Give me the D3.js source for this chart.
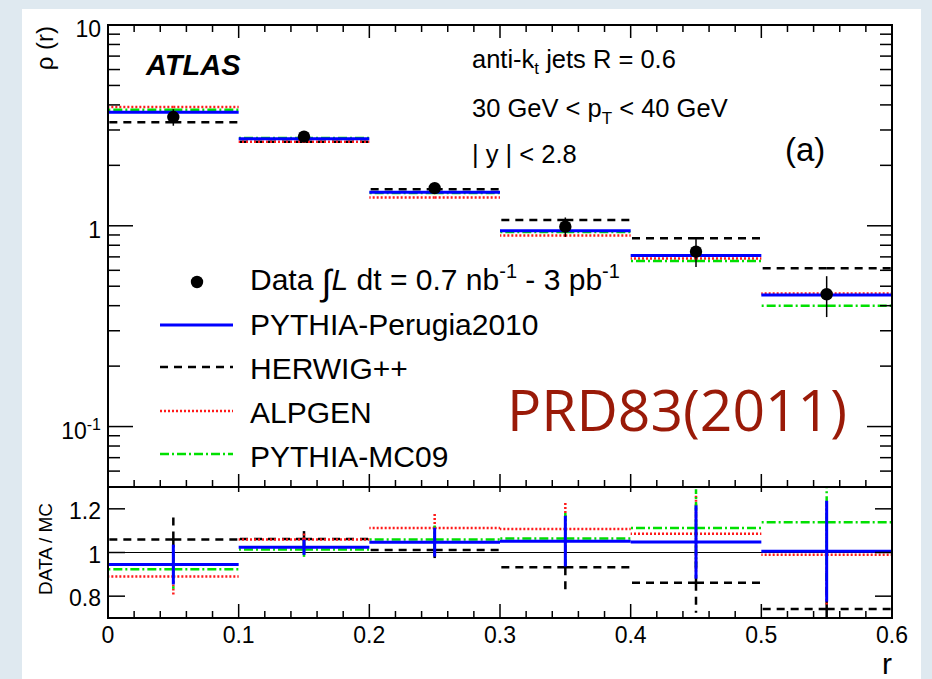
<!DOCTYPE html>
<html><head><meta charset="utf-8">
<script src="https://cdn.jsdelivr.net/npm/d3@7"></script>
<style>body{margin:0;background:#fff;} text{font-family:"Liberation Sans",Arial,Helvetica,sans-serif;fill:#000;}</style>
</head><body><svg id="c" width="932" height="679"></svg>
<script>
// ---------- data ----------
const rLow    = [0.0, 0.1, 0.2, 0.3, 0.4, 0.5];
const rHigh   = [0.1, 0.2, 0.3, 0.4, 0.5, 0.6];
const rCenter = [0.05, 0.15, 0.25, 0.35, 0.45, 0.55];

const dataRho = [3.48, 2.78, 1.54, 0.99, 0.743, 0.456];
const dataErr = [0.33, 0.095, 0.097, 0.11, 0.12, 0.105];

const rhoPerugia = [3.68, 2.715, 1.47, 0.944, 0.712, 0.452];
const rhoHerwig  = [3.28, 2.62, 1.52, 1.07, 0.866, 0.615];
const rhoAlpgen  = [3.91, 2.625, 1.385, 0.895, 0.687, 0.46];
const rhoMC09    = [3.78, 2.74, 1.455, 0.932, 0.668, 0.40];

const ratPerugia = [0.945, 1.024, 1.047, 1.052, 1.048, 1.006];
const ratHerwig  = [1.059, 1.062, 1.011, 0.933, 0.862, 0.741];
const ratAlpgen  = [0.89, 1.059, 1.112, 1.108, 1.086, 0.99];
const ratMC09    = [0.923, 1.014, 1.059, 1.064, 1.112, 1.138];

const errPerugia = [0.091, 0.035, 0.066, 0.116, 0.168, 0.231];
const errHerwig  = [0.102, 0.036, 0.064, 0.103, 0.138, 0.170];
const errAlpgen  = [0.085, 0.036, 0.070, 0.122, 0.174, 0.228];
const errMC09    = [0.089, 0.034, 0.067, 0.117, 0.178, 0.262];

const xTickLabels = ["0", "0.1", "0.2", "0.3", "0.4", "0.5", "0.6"];
const ratioTicks  = [0.8, 1, 1.2];
const legendNames = ["PYTHIA-Perugia2010", "HERWIG++", "ALPGEN", "PYTHIA-MC09"];

// ---------- setup ----------
const svg = d3.select('#c');
svg.append('rect').attr('width',932).attr('height',679).attr('fill','#dfe9f0');
svg.append('rect').attr('x',22).attr('y',9).attr('width',899).attr('height',670).attr('fill','#fff');

const X0=108, X1=892, YT0=25, YT1=487, YR1=618;
const x  = d3.scaleLinear().domain([0,0.6]).range([X0,X1]);
const yT = d3.scaleLog().domain([0.05,10]).range([YT1,YT0]);
const yR = d3.scaleLinear().domain([0.7,1.3]).range([YR1,YT1]);

const st = {
  perugia:{color:'#0000ff', dash:null, w:3},
  herwig:{color:'#000000', dash:'8,6', w:2.5},
  alpgen:{color:'#ff1a1a', dash:'2,2', w:2.5},
  mc09:{color:'#00e000', dash:'9,3,2,3', w:2.5}
};

const defs = svg.append('defs');
defs.append('clipPath').attr('id','clipT').append('rect').attr('x',X0).attr('y',YT0).attr('width',X1-X0).attr('height',YT1-YT0);
defs.append('clipPath').attr('id','clipR').append('rect').attr('x',X0).attr('y',YT1).attr('width',X1-X0).attr('height',YR1-YT1);

function seg(g,x1,y1,x2,y2,s,w){
  const l = g.append('line').attr('x1',x1).attr('y1',y1).attr('x2',x2).attr('y2',y2)
    .attr('stroke',s.color).attr('stroke-width',w||s.w).attr('fill','none');
  if(s.dash) l.attr('stroke-dasharray',s.dash);
  return l;
}

// ---------- top panel ----------
const gT = svg.append('g').attr('clip-path','url(#clipT)');
const topSeries = [[rhoHerwig,st.herwig],[rhoAlpgen,st.alpgen],[rhoMC09,st.mc09],[rhoPerugia,st.perugia]];
topSeries.forEach(([vals,s])=>{
  vals.forEach((v,i)=>{
    const xc=x(rCenter[i]), yy=yT(v);
    seg(gT,xc,yy,x(rLow[i]),yy,s);
    seg(gT,xc,yy,x(rHigh[i]),yy,s);
  });
});
dataRho.forEach((v,i)=>{
  const xc=x(rCenter[i]);
  gT.append('line').attr('x1',xc).attr('x2',xc).attr('y1',yT(v+dataErr[i])).attr('y2',yT(v-dataErr[i]))
    .attr('stroke','#000').attr('stroke-width',1.5);
  gT.append('circle').attr('cx',xc).attr('cy',yT(v)).attr('r',6.2).attr('fill','#000');
});

// ---------- ratio panel ----------
const gR = svg.append('g').attr('clip-path','url(#clipR)');
gR.append('line').attr('x1',X0).attr('x2',X1).attr('y1',yR(1)).attr('y2',yR(1)).attr('stroke','#000').attr('stroke-width',1);
const ratSeries = [[ratHerwig,errHerwig,st.herwig],[ratAlpgen,errAlpgen,st.alpgen],[ratMC09,errMC09,st.mc09],[ratPerugia,errPerugia,st.perugia]];
ratSeries.forEach(([vals,errs,s])=>{
  vals.forEach((v,i)=>{
    const xc=x(rCenter[i]), yy=yR(v);
    seg(gR,xc,yy,x(rLow[i]),yy,s);
    seg(gR,xc,yy,x(rHigh[i]),yy,s);
    seg(gR,xc,yy,xc,yR(v+errs[i]),s);
    seg(gR,xc,yy,xc,yR(v-errs[i]),s);
  });
});

// ---------- frames & ticks ----------
const ax = svg.append('g').attr('stroke','#000').attr('fill','none');
ax.append('rect').attr('x',X0).attr('y',YT0).attr('width',X1-X0).attr('height',YT1-YT0).attr('stroke-width',2);
ax.append('rect').attr('x',X0).attr('y',YT1).attr('width',X1-X0).attr('height',YR1-YT1).attr('stroke-width',2);

const xMinor = x.ticks(30);
const xMajor = x.ticks(6);
function tick(x1,y1,x2,y2){ ax.append('line').attr('x1',x1).attr('y1',y1).attr('x2',x2).attr('y2',y2).attr('stroke-width',1.5); }
xMinor.forEach(t=>{
  const major = xMajor.some(m=>Math.abs(m-t)<1e-9);
  const L = major?13:7;
  const xx = x(t);
  if(xx<=X0+1||xx>=X1-1) return;
  tick(xx,YT0,xx,YT0+L); tick(xx,YT1,xx,YT1-L);
  tick(xx,YR1,xx,YR1-(major?14:7));
  if(major) tick(xx,YT1,xx,YT1+5);
});
yT.ticks().forEach(t=>{
  const lg=Math.log10(t); const major=Math.abs(lg-Math.round(lg))<1e-9;
  const L = major?25:12; const yy=yT(t);
  if(yy<YT0+0.5||yy>YT1-0.5) { if(!(major && Math.abs(yy-YT0)<1)) return; }
  tick(X0,yy,X0+L,yy); tick(X1,yy,X1-L,yy);
});
ratioTicks.forEach(t=>{ const yy=yR(t); tick(X0,yy,X0+17,yy); tick(X1,yy,X1-17,yy); });

// ---------- tick labels ----------
const lab = svg.append('g').style('font-size','23px');
xMajor.forEach((t,i)=>{
  lab.append('text').attr('x',x(t)).attr('y',643).attr('text-anchor','middle').text(xTickLabels[i]);
});
[[10,'10',null],[1,'1',null],[0.1,'10','-1']].forEach(([v,base,sup])=>{
  const t = lab.append('text').attr('x',101).attr('y',yT(v)+12).attr('text-anchor','end');
  t.append('tspan').text(base);
  if(sup) t.append('tspan').attr('dy',-9).style('font-size','16px').text(sup);
});
ratioTicks.forEach(v=>{
  lab.append('text').attr('x',101).attr('y',yR(v)+10).attr('text-anchor','end').text(d3.format('~g')(v));
});

// ---------- axis titles ----------
svg.append('text').attr('transform','translate(53,26) rotate(-90)').attr('text-anchor','end')
  .style('font-size','24px').text('ρ (r)');
svg.append('text').attr('transform','translate(52,549) rotate(-90)').attr('text-anchor','middle')
  .style('font-size','19px').text('DATA / MC');
svg.append('text').attr('x',892).attr('y',674).attr('text-anchor','end').style('font-size','30px').text('r');

// ---------- annotations ----------
svg.append('text').attr('x',146).attr('y',75).style('font-size','29px').style('font-weight','bold').style('font-style','italic').text('ATLAS');
const a1 = svg.append('text').attr('x',472).attr('y',68).style('font-size','25.5px');
a1.append('tspan').text('anti-k');
a1.append('tspan').attr('dy',6).style('font-size','17px').text('t');
a1.append('tspan').attr('dy',-6).text(' jets R = 0.6');
const a2 = svg.append('text').attr('x',472).attr('y',117).style('font-size','25.5px');
a2.append('tspan').text('30 GeV < p');
a2.append('tspan').attr('dy',7).style('font-size','17px').text('T');
a2.append('tspan').attr('dy',-7).text(' < 40 GeV');
svg.append('text').attr('x',472).attr('y',163).style('font-size','25.5px').text('| y | < 2.8');
svg.append('text').attr('x',785).attr('y',161).style('font-size','33px').text('(a)');

// ---------- legend ----------
const lg = svg.append('g');
lg.append('circle').attr('cx',197).attr('cy',282).attr('r',6.2).attr('fill','#000');
const dt = lg.append('text').attr('x',250).attr('y',290).style('font-size','30px');
dt.append('tspan').text('Data ');
dt.append('tspan').attr('dy',5).style('font-size','36px').text('∫');
dt.append('tspan').attr('dy',-5).style('font-style','italic').text('L');
dt.append('tspan').text(' dt = 0.7 nb');
dt.append('tspan').attr('dy',-12).style('font-size','20px').text('-1');
dt.append('tspan').attr('dy',12).text(' - 3 pb');
dt.append('tspan').attr('dy',-12).style('font-size','20px').text('-1');
const legStyles=[st.perugia,st.herwig,st.alpgen,st.mc09];
const legLineY=[325,367,411,454];
const legTextY=[335,379,423,467];
legendNames.forEach((n,i)=>{
  seg(lg,160,legLineY[i],233,legLineY[i],legStyles[i]);
  lg.append('text').attr('x',250).attr('y',legTextY[i]).style('font-size','30px').text(n);
});

// ---------- stamp ----------
svg.append('text').attr('x',507).attr('y',431).style('font-family','"Open Sans","Noto Sans",sans-serif')
  .style('font-size','57px').style('fill','#9a1a08').text('PRD83(2011)');
</script></body></html>
